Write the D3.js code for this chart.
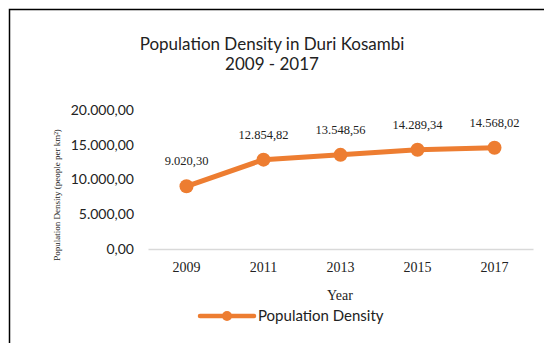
<!DOCTYPE html>
<html>
<head>
<meta charset="utf-8">
<script src="https://cdn.jsdelivr.net/npm/d3@7"></script>
<style>
  html, body { margin: 0; padding: 0; background: #fff; }
  svg { display: block; }
</style>
</head>
<body>
<svg id="chart" width="549" height="343"></svg>
<script>
const years = ["2009", "2011", "2013", "2015", "2017"];
const density = [9020.30, 12854.82, 13548.56, 14289.34, 14568.02];
const yTicks = [0, 5000, 10000, 15000, 20000];
const seriesName = "Population Density";
const titleLines = ["Population Density in Duri Kosambi", "2009 - 2017"];

const sans = "'Gill Sans', 'Gill Sans MT', Lato, sans-serif";
const serif = "'Liberation Serif', 'Times New Roman', serif";
const orange = "#ED7D31";

const svg = d3.select("#chart");
const fmt = v => {
  const s = v.toFixed(2).split(".");
  return s[0].replace(/\B(?=(\d{3})+(?!\d))/g, ".") + "," + s[1];
};

// frame (top and left edges)
svg.append("path")
  .attr("d", "M9.5,343 L9.5,9.5 L544,9.5")
  .attr("fill", "none").attr("stroke", "#000").attr("stroke-width", 1.5);

const x = d3.scaleBand().domain(years).range([148, 533]);
const y = d3.scaleLinear().domain([0, 20000]).range([249, 110]);

// title
svg.append("text").attr("x", 272).attr("y", 50)
  .attr("text-anchor", "middle").attr("font-family", sans)
  .attr("font-size", 17).attr("fill", "#222").text(titleLines[0]);
svg.append("text").attr("x", 272).attr("y", 70)
  .attr("text-anchor", "middle").attr("font-family", sans)
  .attr("font-size", 17).attr("fill", "#222").text(titleLines[1]);

// y axis labels
const yAxis = d3.axisLeft(y).tickValues(yTicks).tickFormat(fmt).tickSize(0).tickPadding(0);
const gy = svg.append("g").attr("transform", "translate(134,0)").call(yAxis);
gy.select(".domain").remove();
gy.selectAll("text").attr("font-family", sans).attr("font-size", 14).attr("fill", "#222");

// baseline
const xAxis = d3.axisBottom(x).tickSize(0).tickPadding(13);
const gx = svg.append("g").attr("transform", `translate(0,${y(0)})`).call(xAxis);
gx.select(".domain").attr("stroke", "#d9d9d9").attr("stroke-width", 1.5);
gx.selectAll("text").attr("font-family", serif).attr("font-size", 14).attr("fill", "#222");

// axis titles
svg.append("text").attr("x", 340).attr("y", 300)
  .attr("text-anchor", "middle").attr("font-family", serif)
  .attr("font-size", 14).attr("fill", "#222").text("Year");
svg.append("text")
  .attr("transform", "translate(60,195) rotate(-90)")
  .attr("text-anchor", "middle").attr("font-family", serif)
  .attr("font-size", 9).attr("fill", "#222").text("Population Density (people per km²)");

// line
const data = years.map((yr, i) => ({ yr, v: density[i] }));
const cx = d => x(d.yr) + x.bandwidth() / 2;
svg.append("path").datum(data)
  .attr("d", d3.line().x(cx).y(d => y(d.v)))
  .attr("fill", "none").attr("stroke", orange).attr("stroke-width", 5)
  .attr("stroke-linejoin", "round").attr("stroke-linecap", "round");
svg.selectAll("circle.pt").data(data).join("circle")
  .attr("class", "pt").attr("cx", cx).attr("cy", d => y(d.v))
  .attr("r", 7).attr("fill", orange);

// data labels
svg.selectAll("text.lbl").data(data).join("text")
  .attr("class", "lbl").attr("x", cx).attr("y", d => y(d.v) - 21)
  .attr("text-anchor", "middle").attr("font-family", serif)
  .attr("font-size", 12.5).attr("fill", "#222").text(d => fmt(d.v));

// legend
const lg = svg.append("g");
lg.append("line").attr("x1", 200).attr("x2", 254).attr("y1", 316).attr("y2", 316)
  .attr("stroke", orange).attr("stroke-width", 4.5).attr("stroke-linecap", "round");
lg.append("circle").attr("cx", 227).attr("cy", 316).attr("r", 5).attr("fill", orange);
lg.append("text").attr("x", 258).attr("y", 321).attr("font-family", sans)
  .attr("font-size", 15).attr("fill", "#222").text(seriesName);
</script>
</body>
</html>
